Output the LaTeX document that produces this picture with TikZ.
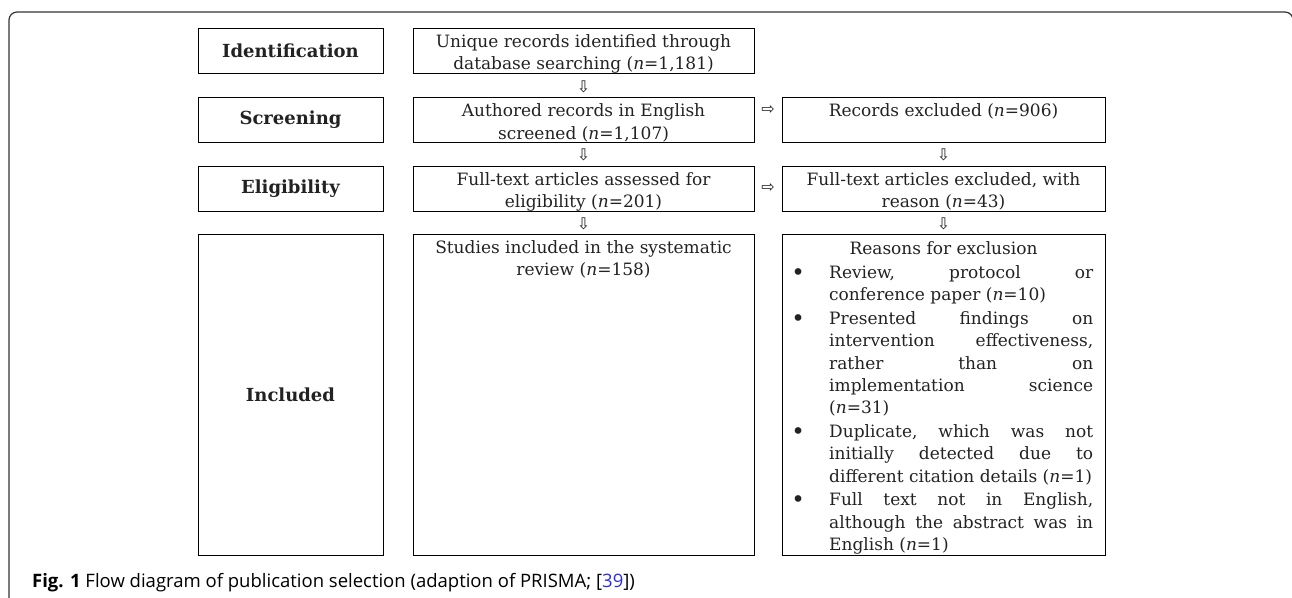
\documentclass[tikz,border=0pt]{standalone}
\usepackage{fontspec}
\setmainfont{DejaVu Serif}
\newfontfamily\capfont{Open Sans}
\newfontfamily\arrfont{DejaVu Sans}
\usetikzlibrary{calc}
\definecolor{txtcol}{HTML}{222222}
\definecolor{capblue}{HTML}{2B2BF0}
\definecolor{framecol}{HTML}{333333}
\newcommand\twoline[2]{\vtop{\baselineskip=22.5pt\halign{\hfil##\hfil\cr #1\cr #2\cr}}}
\newcommand\jline[1]{\hbox to\hsize{#1}}
\newcommand\lline[1]{\hbox to\hsize{#1\hfill}}
\newcommand\bul{\llap{\hbox to 62pt{\hss\raisebox{-1.8pt}{\fontsize{23}{23}\selectfont\char"2022}\hss}}}
\newcommand\nn{\textit{n}}
\begin{document}
\begin{tikzpicture}[x=1pt,y=-1pt,
  box/.style={draw=black, line width=0.9pt, rectangle, inner sep=0pt, outer sep=0pt},
  leftbox/.style={box, minimum width=185pt},
  midbox/.style={box, minimum width=341pt},
  rightbox/.style={box, minimum width=323pt},
  shortbox/.style={minimum height=45pt},
  tallbox/.style={minimum height=321pt},
  lbl/.style={inner sep=0pt, text=txtcol, font=\bfseries\fontsize{18}{20}\selectfont},
  txt/.style={inner sep=0pt, text=txtcol, anchor=base, font=\fontsize{17}{22.5}\selectfont},
  arr/.style={inner sep=0pt, text=txtcol, font=\arrfont\fontsize{16}{16}\selectfont},
  capstyle/.style={inner sep=0pt, anchor=base west, text=black, font=\capfont\fontsize{18.5}{20}\selectfont}
]
\useasboundingbox (0,0) rectangle (1292,597);
% outer frame
\draw[framecol, line width=1.2pt] (9,600) -- (9,20) arc[start angle=180, end angle=270, radius=8] -- (1285,12) arc[start angle=270, end angle=360, radius=8] -- (1293,600);

% left column
\node[leftbox, shortbox] (id) at (290.5,50.5) {};
\node[leftbox, shortbox] (sc) at (290.5,119.5) {};
\node[leftbox, shortbox] (el) at (290.5,188.5) {};
\node[leftbox, tallbox] (in) at (290.5,394.5) {};
\node[lbl] (idt) at (id.center) {Identification};
\node[lbl] (sct) at (sc.center) {Screening};
\node[lbl] (elt) at (el.center) {Eligibility};
\node[lbl] (int) at (in.center) {Included};

% middle column
\node[midbox, shortbox] (m1) at (583.5,50.5) {};
\node[midbox, shortbox] (m2) at (583.5,119.5) {};
\node[midbox, shortbox] (m3) at (583.5,188.5) {};
\node[midbox, tallbox] (m4) at (583.5,394.5) {};
\node[txt] (m1t) at ($(m1.north)+(0,19.3)$) {\twoline{Unique records identified through}{database searching (\nn=1,181)}};
\node[txt] (m2t) at ($(m2.north)+(0,19.8)$) {\twoline{Authored records in English}{screened (\nn=1,107)}};
\node[txt] (m3t) at ($(m3.north)+(0,19.3)$) {\twoline{Full-text articles assessed for}{eligibility (\nn=201)}};
\node[txt] (m4t) at ($(m4.north)+(0,19.3)$) {\twoline{Studies included in the systematic}{review (\nn=158)}};

% right column
\node[rightbox, shortbox] (r2) at (943.5,119.5) {};
\node[rightbox, shortbox] (r3) at (943.5,188.5) {};
\node[rightbox, tallbox] (r4) at (943.5,394.5) {};
\node[txt] (r2t) at ($(r2.north)+(0,19.8)$) {Records excluded (\nn=906)};
\node[txt] (r3t) at ($(r3.north)+(0,19.3)$) {\twoline{Full-text articles excluded, with}{reason (\nn=43)}};
\node[txt] (r4h) at ($(r4.north)+(0,20)$) {Reasons for exclusion};
\node[txt, anchor=base west] (r4l) at (829,278.3) {\vtop{\hsize=264pt\baselineskip=22.4pt
\jline{\bul Review,\hfill protocol\hfill or}
\lline{conference paper (\nn=10)}
\vskip1.2pt
\jline{\bul Presented\hfill findings\hfill on}
\jline{intervention\hfill effectiveness,}
\jline{rather\hfill than\hfill on}
\jline{implementation\hfill science}
\lline{(\nn=31)}
\vskip1.2pt
\jline{\bul Duplicate,\hfill which\hfill was\hfill not}
\jline{initially\hfill detected\hfill due\hfill to}
\lline{different citation details (\nn=1)}
\vskip1.2pt
\jline{\bul Full\hfill text\hfill not\hfill in\hfill English,}
\jline{although\hfill the\hfill abstract\hfill was\hfill in}
\lline{English (\nn=1)}}};

% arrows
\node[arr] (a1) at ($(m1.south)!0.5!(m2.north)+(0,2)$) {⇩};
\node[arr] (a2) at ($(m2.south)!0.5!(m3.north)+(0,1)$) {⇩};
\node[arr] (a3) at ($(m3.south)!0.5!(m4.north)+(0,1)$) {⇩};
\node[arr] (a4) at ($(r2.south)!0.5!(r3.north)+(0,1)$) {⇩};
\node[arr] (a5) at ($(r3.south)!0.5!(r4.north)+(0,1)$) {⇩};
\node[arr] (a6) at ($(m2.east)!0.5!(r2.west)+(0,-9.5)$) {⇨};
\node[arr] (a7) at ($(m3.east)!0.5!(r3.west)$) {⇨};

% caption
\node[capstyle] (caption) at (32,587) {\textbf{Fig. 1} Flow diagram of publication selection (adaption of PRISMA; [\textcolor{capblue}{39}])};
\end{tikzpicture}
\end{document}
